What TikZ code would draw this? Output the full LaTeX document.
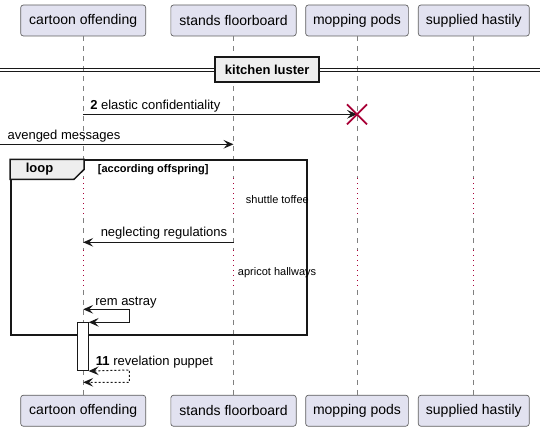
\documentclass[tikz,border=0pt]{standalone}
\usepackage{fontspec}
\setmainfont{Liberation Sans}
\usetikzlibrary{arrows.meta}
\definecolor{partfill}{HTML}{E2E2F0}
\definecolor{ink}{HTML}{181818}
\definecolor{lifegray}{HTML}{808080}
\definecolor{delayred}{HTML}{A80036}
\definecolor{grpfill}{HTML}{EEEEEE}
\begin{document}
\begin{tikzpicture}[x=0.75pt,y=-0.75pt,
  part/.style={draw=ink!70, line width=0.5pt, fill=partfill, rounded corners=2pt,
    minimum height=23.25pt, inner sep=0pt, font=\fontsize{10.5pt}{12pt}\selectfont},
  lifedash/.style={draw=lifegray, line width=0.6pt, dash pattern=on 3.75pt off 3.75pt},
  lifedot/.style={draw=delayred, line width=0.75pt, dash pattern=on 0.75pt off 3pt},
  tipA/.tip={Stealth[length=7.5pt,width=6.5pt,inset=3pt]},
  msg/.style={draw=ink, line width=0.75pt, -tipA},
  msgboth/.style={draw=ink, line width=0.75pt, tipA-tipA},
  retboth/.style={draw=ink, line width=0.75pt, tipA-tipA, dash pattern=on 1.5pt off 1.5pt},
  lbl/.style={inner sep=0pt, anchor=base west, font=\fontsize{9.75pt}{11pt}\selectfont},
  delaytxt/.style={inner sep=0pt, anchor=west, font=\fontsize{8.25pt}{10pt}\selectfont},
  grp/.style={draw=ink, line width=1.125pt},
  divbox/.style={draw=ink, line width=1.125pt, fill=grpfill, inner sep=0pt,
    minimum width=78pt, minimum height=18.4pt, font=\bfseries\fontsize{9.75pt}{11pt}\selectfont}
]
\useasboundingbox (0,0) rectangle (540,431);

% participants
\node[part, minimum width=93.75pt] (pA) at (83.2,20.5) {cartoon offending};
\node[part, minimum width=94pt] (pB) at (233.5,20.5) {stands floorboard};
\node[part, minimum width=77pt] (pC) at (357,20.5) {mopping pods};
\node[part, minimum width=83.25pt] (pD) at (473.8,20.5) {supplied hastily};
\node[part, minimum width=93.75pt] (qA) at (83.2,410.75) {cartoon offending};
\node[part, minimum width=94pt] (qB) at (233.5,410.75) {stands floorboard};
\node[part, minimum width=77pt] (qC) at (357,410.75) {mopping pods};
\node[part, minimum width=83.25pt] (qD) at (473.8,410.75) {supplied hastily};

% lifelines
\foreach \n in {A,B,C,D}{
  \draw[lifedash] (p\n.south) -- (p\n.south |- 0,178.3);
  \draw[lifedot]  (p\n.south |- 0,178.3) -- (p\n.south |- 0,218.3);
  \draw[lifedash] (p\n.south |- 0,218.3) -- (p\n.south |- 0,250);
  \draw[lifedot]  (p\n.south |- 0,250) -- (p\n.south |- 0,290);
  \draw[lifedash] (p\n.south |- 0,290) -- (q\n.north);
}

% divider
\coordinate (dl) at (0,70);
\coordinate (dr) at (540,70);
\draw[draw=ink, line width=0.75pt] ([yshift=1.3pt]dl) -- ([yshift=1.3pt]dr);
\draw[draw=ink, line width=0.75pt] ([yshift=-1.3pt]dl) -- ([yshift=-1.3pt]dr);
\node[divbox] (div) at (267.2,69.5) {kitchen luster};

% message 2 with destroy
\coordinate (m2s) at (pA.south |- 0,114.3);
\coordinate (m2e) at (pC.south |- 0,114.3);
\draw[msg] (m2s) -- (m2e);
\draw[draw=delayred, line width=1.3pt] (m2e) ++(-10,-10) -- ++(20,20)
      (m2e) ++(10,-10) -- ++(-20,20);
\node[lbl] (l2) at (90,109.5) {\textbf{2} elastic confidentiality};

% avenged messages
\coordinate (avS) at (0,144.3);
\coordinate (avE) at (pB.south |- 0,144.3);
\draw[msg] (avS) -- (avE);
\node[lbl] (lav) at (7.3,139.5) {avenged messages};

% loop group
\node[grp, anchor=north west, minimum width=222.2pt, minimum height=131.25pt, inner sep=0pt] (loopbox) at (10,159.3) {};
\draw[grp, fill=grpfill] (10,159.3) -- (84,159.3) -- (84,169.5) -- (74,179.3) -- (10,179.3) -- cycle;
\node[inner sep=0pt, font=\bfseries\fontsize{9.75pt}{11pt}\selectfont] (looptitle) at (39.5,169.5) {loop};
\node[inner sep=0pt, anchor=west, font=\bfseries\fontsize{8.25pt}{10pt}\selectfont] (guard) at (97.7,169.5) {[according offspring]};

% delays
\node[delaytxt] (d1) at (245.7,199.3) {shuttle toffee};
\node[delaytxt] (d2) at (237.7,272.7) {apricot hallways};

% neglecting regulations
\coordinate (ngS) at (pB.south |- 0,242.3);
\coordinate (ngE) at (pA.south |- 0,242.3);
\draw[msg] (ngS) -- (ngE);
\node[lbl] (lng) at (100.5,236.5) {neglecting regulations};

% activation
\node[draw=ink, line width=0.75pt, fill=white, anchor=north west, inner sep=0pt,
      minimum width=7.8pt, minimum height=35.8pt] (act) at (77.3,322.3) {};

% rem astray
\coordinate (raS) at (pA.south |- 0,309.3);
\draw[msgboth] (raS) -- (129.3,309.3) -- (129.3,322.3) -- (act.north east);
\node[lbl] (lra) at (95,305.5) {rem astray};

% revelation puppet
\coordinate (rvE) at (pA.south |- 0,382.3);
\draw[retboth] (act.south east) -- (129.3,370) -- (129.3,382.3) -- (rvE);
\node[lbl] (lrv) at (95.7,365.5) {\textbf{11} revelation puppet};
\end{tikzpicture}
\end{document}
